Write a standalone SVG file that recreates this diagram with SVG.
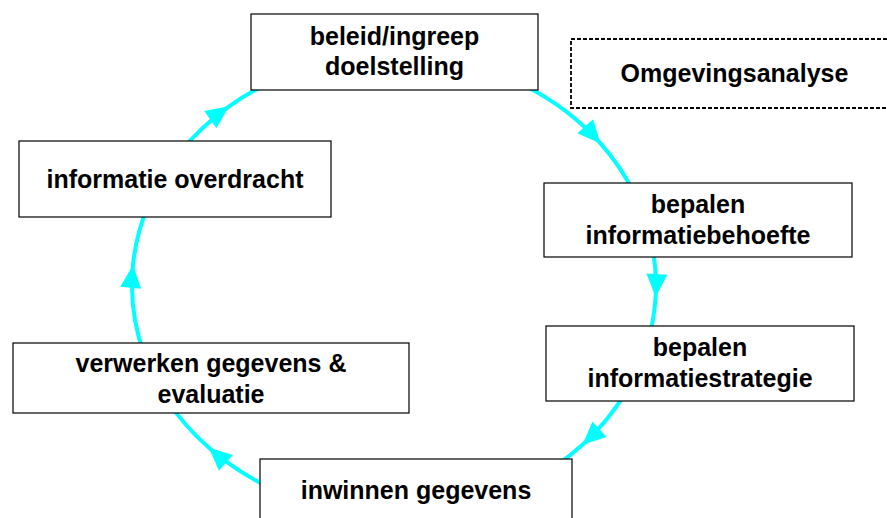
<svg xmlns="http://www.w3.org/2000/svg" width="887" height="518" viewBox="0 0 887 518">
<style>
.box{fill:#fff;stroke:#000;stroke-width:1.2}
.dash{fill:#fff;stroke:#000;stroke-width:1.8;stroke-dasharray:4,2}
.lbl{font-family:"Liberation Sans",Arial,sans-serif;font-weight:bold;font-size:25px;fill:#000;text-anchor:middle}
.arc{fill:none;stroke:#00ffff;stroke-width:4;marker-mid:url(#ah)}
</style>
<defs>
<marker id="ah" markerUnits="userSpaceOnUse" markerWidth="32" markerHeight="32" viewBox="-27 -16 32 32" refX="0" refY="0" orient="auto">
<path d="M0,0 L-23,-10.5 L-23,10.5 Z" fill="#00ffff"/>
</marker>
</defs>
<rect width="887" height="518" fill="#fff"/>
<g id="connectors">
<path class="arc" d="M525,85.8 A262,230 0 0 1 600.5,143.4 A262,230 0 0 1 633.3,191.5"/>
<path class="arc" d="M652,245.1 A262,230 0 0 1 655.6,297 A262,230 0 0 1 648.2,340.6"/>
<path class="arc" d="M627.4,389.4 A262,230 0 0 1 582.5,444.8 A262,230 0 0 1 555.3,466.2"/>
<path class="arc" d="M271,488.1 A262,230 0 0 1 208.7,447.6 A262,230 0 0 1 167.1,400"/>
<path class="arc" d="M144.8,356.1 A262,230 0 0 1 133,264.9 A262,230 0 0 1 147.8,206.3"/>
<path class="arc" d="M179.4,153.1 A262,230 0 0 1 229.1,106.3 A262,230 0 0 1 271,81.9"/>
</g>
<g id="beleid">
<rect class="box" x="251" y="14" width="287" height="76"/>
<text class="lbl" x="394.5" y="45">beleid/ingreep</text>
<text class="lbl" x="394.5" y="75">doelstelling</text>
</g>
<g id="omgevingsanalyse">
<rect class="dash" x="571" y="39" width="330" height="69"/>
<text class="lbl" x="734.5" y="82">Omgevingsanalyse</text>
</g>
<g id="informatiebehoefte">
<rect class="box" x="544" y="183" width="308" height="74"/>
<text class="lbl" x="698" y="213">bepalen</text>
<text class="lbl" x="698" y="244">informatiebehoefte</text>
</g>
<g id="informatiestrategie">
<rect class="box" x="546" y="326" width="308" height="75"/>
<text class="lbl" x="700" y="356">bepalen</text>
<text class="lbl" x="700" y="387">informatiestrategie</text>
</g>
<g id="inwinnen">
<rect class="box" x="260" y="459" width="312" height="70"/>
<text class="lbl" x="416" y="499">inwinnen gegevens</text>
</g>
<g id="verwerken">
<rect class="box" x="13" y="343" width="396" height="70"/>
<text class="lbl" x="211" y="372">verwerken gegevens &amp;</text>
<text class="lbl" x="211" y="403">evaluatie</text>
</g>
<g id="overdracht">
<rect class="box" x="19" y="141" width="312" height="76"/>
<text class="lbl" x="175" y="188">informatie overdracht</text>
</g>
</svg>
